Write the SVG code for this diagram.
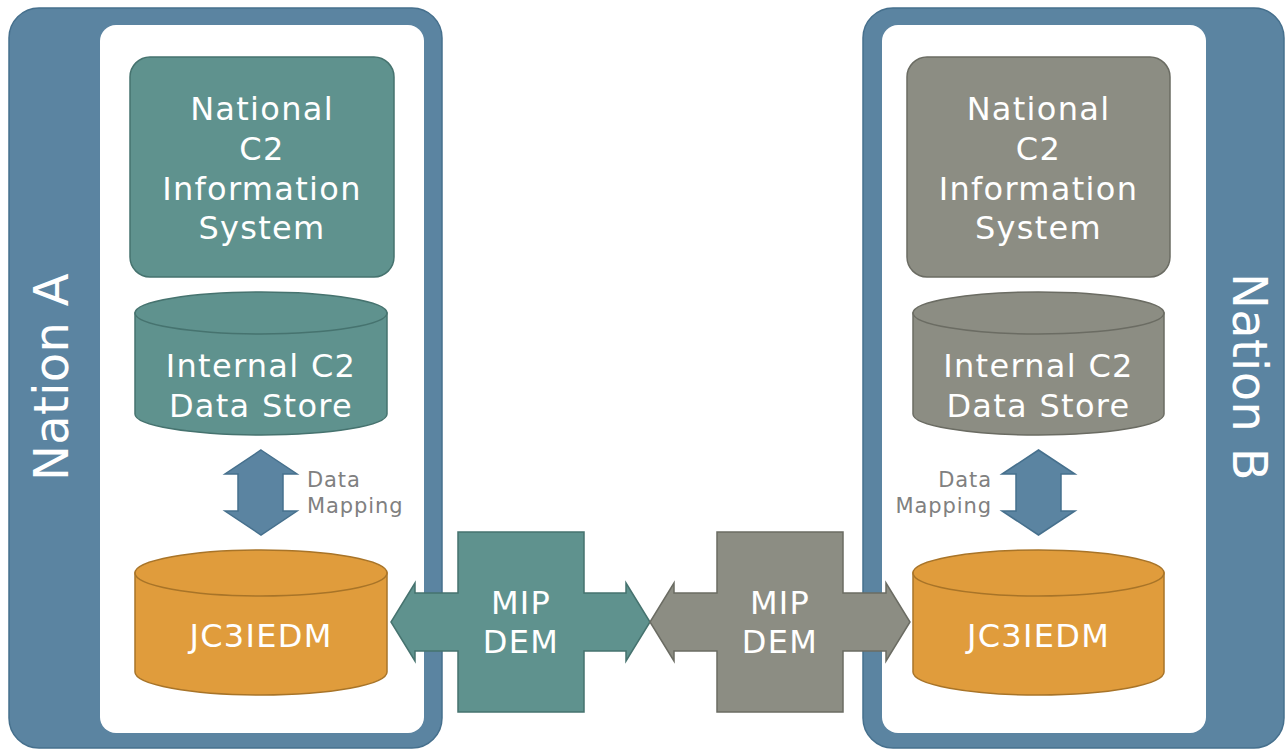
<svg xmlns="http://www.w3.org/2000/svg" width="1285" height="750" viewBox="0 0 1285 750">
  <style>
    .frame { fill: #5B84A1; stroke: #46708D; stroke-width: 1.5; }
    .inner { fill: #FFFFFF; }
    .teal { fill: #5F928E; stroke: #46736F; stroke-width: 1.5; }
    .grey { fill: #8C8D83; stroke: #6B6C63; stroke-width: 1.5; }
    .orange { fill: #E09C3C; stroke: #A87428; stroke-width: 1.5; }
    .map { fill: #5B84A1; stroke: #46708D; stroke-width: 1.5; }
    .lbl { font-family: "DejaVu Sans", Verdana, sans-serif; font-size: 32px; fill: #FFFFFF; text-anchor: middle; letter-spacing: 1.3px; }
    .nation { font-family: "DejaVu Sans", Verdana, sans-serif; font-size: 48px; fill: #FFFFFF; text-anchor: middle; letter-spacing: 0.3px; }
    .note { font-family: "DejaVu Sans", Verdana, sans-serif; font-size: 21px; fill: #808080; letter-spacing: 0.9px; }
  </style>

  <!-- Nation A -->
  <g id="nation-a">
    <rect class="frame" x="9" y="8" width="433" height="740" rx="30"/>
    <rect class="inner" x="100" y="25" width="324" height="708" rx="16"/>
    <text class="nation" transform="translate(68,377) rotate(-90)">Nation A</text>
  </g>

  <!-- Nation B -->
  <g id="nation-b">
    <rect class="frame" x="863" y="8" width="421" height="740" rx="30"/>
    <rect class="inner" x="882" y="25" width="324" height="708" rx="16"/>
    <text class="nation" transform="translate(1233,377) rotate(90)">Nation B</text>
  </g>

  <!-- Nation A nodes -->
  <g id="a-info-system">
    <rect class="teal" x="130" y="57" width="264" height="220" rx="20"/>
    <text class="lbl" x="262" y="120">National</text>
    <text class="lbl" x="262" y="160">C2</text>
    <text class="lbl" x="262" y="200">Information</text>
    <text class="lbl" x="262" y="239">System</text>
  </g>
  <g id="a-data-store">
    <path class="teal" d="M135,313 V414 A126,21 0 0 0 387,414 V313 Z"/>
    <ellipse class="teal" cx="261" cy="313" rx="126" ry="21"/>
    <text class="lbl" x="261" y="377">Internal C2</text>
    <text class="lbl" x="261" y="417">Data Store</text>
  </g>
  <g id="a-jc3iedm">
    <path class="orange" d="M135,573 V672 A126,23 0 0 0 387,672 V573 Z"/>
    <ellipse class="orange" cx="261" cy="573" rx="126" ry="23"/>
    <text class="lbl" x="261" y="647">JC3IEDM</text>
  </g>

  <!-- Nation B nodes -->
  <g id="b-info-system">
    <rect class="grey" x="907" y="57" width="263" height="220" rx="20"/>
    <text class="lbl" x="1038.5" y="120">National</text>
    <text class="lbl" x="1038.5" y="160">C2</text>
    <text class="lbl" x="1038.5" y="200">Information</text>
    <text class="lbl" x="1038.5" y="239">System</text>
  </g>
  <g id="b-data-store">
    <path class="grey" d="M913,313 V414 A125.5,21 0 0 0 1164,414 V313 Z"/>
    <ellipse class="grey" cx="1038.5" cy="313" rx="125.5" ry="21"/>
    <text class="lbl" x="1038.5" y="377">Internal C2</text>
    <text class="lbl" x="1038.5" y="417">Data Store</text>
  </g>
  <g id="b-jc3iedm">
    <path class="orange" d="M913,573 V672 A125.5,23 0 0 0 1164,672 V573 Z"/>
    <ellipse class="orange" cx="1038.5" cy="573" rx="125.5" ry="23"/>
    <text class="lbl" x="1038.5" y="647">JC3IEDM</text>
  </g>

  <!-- Connectors: data mapping arrows -->
  <g id="connectors">
    <path class="map" d="M261,450 L297,474 H283 V511 H297 L261,535 L225,511 H238 V474 H225 Z"/>
    <text class="note" x="307" y="487">Data</text>
    <text class="note" x="307" y="513">Mapping</text>
    <path class="map" d="M1038.5,450 L1075,474 H1061 V511 H1075 L1038.5,535 L1002,511 H1016 V474 H1002 Z"/>
    <text class="note" x="992" y="487" text-anchor="end">Data</text>
    <text class="note" x="992" y="513" text-anchor="end">Mapping</text>
  </g>

  <!-- MIP DEM exchange crosses -->
  <g id="mip-dem-a">
    <path class="teal" d="M458,532 H584 V593 H626 V583 L650,622 L626,661 V651 H584 V712 H458 V651 H415 V661 L391,622 L415,583 V593 H458 Z"/>
    <text class="lbl" x="521" y="614">MIP</text>
    <text class="lbl" x="521" y="653">DEM</text>
  </g>
  <g id="mip-dem-b">
    <path class="grey" d="M717,532 H843 V593 H886 V583 L910,622 L886,661 V651 H843 V712 H717 V651 H674 V661 L650,622 L674,583 V593 H717 Z"/>
    <text class="lbl" x="780" y="614">MIP</text>
    <text class="lbl" x="780" y="653">DEM</text>
  </g>
</svg>
